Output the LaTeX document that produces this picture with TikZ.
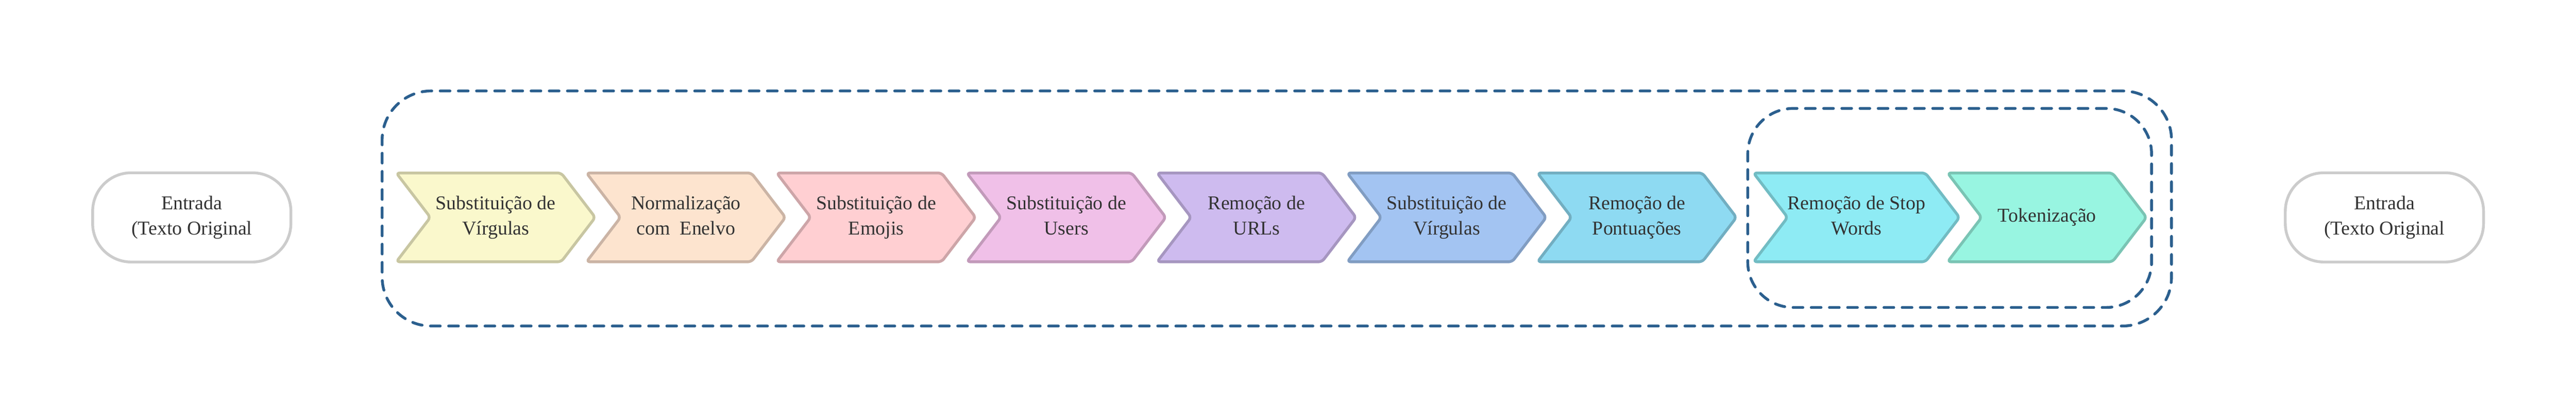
\documentclass[tikz,border=0pt]{standalone}
\usepackage{fontspec}
\setmainfont{Liberation Serif}
\usetikzlibrary{shapes.symbols}

\definecolor{texto}{HTML}{333333}
\definecolor{cinza}{HTML}{CCCCCC}
\definecolor{tracejado}{HTML}{2B5F8E}
\definecolor{amarelo}{HTML}{FAF8CC}   \definecolor{amareloB}{HTML}{C8C6A2}
\definecolor{pessego}{HTML}{FDE4CF}   \definecolor{pessegoB}{HTML}{CBB4A5}
\definecolor{rosa}{HTML}{FFCFD2}      \definecolor{rosaB}{HTML}{CDA5A8}
\definecolor{magenta}{HTML}{F0C0E8}   \definecolor{magentaB}{HTML}{C29ABA}
\definecolor{lilas}{HTML}{CEBBEF}     \definecolor{lilasB}{HTML}{A696C0}
\definecolor{azul}{HTML}{A3C4F2}      \definecolor{azulB}{HTML}{819DC2}
\definecolor{celeste}{HTML}{8EDAF2}   \definecolor{celesteB}{HTML}{72AEC1}
\definecolor{ciano}{HTML}{8EEBF4}     \definecolor{cianoB}{HTML}{72BCC3}
\definecolor{menta}{HTML}{98F5E1}     \definecolor{mentaB}{HTML}{7AC4B4}

\newcommand\apoio{\rule[-3.5pt]{0pt}{14pt}}

\begin{document}
\begin{tikzpicture}[
  etapa/.style={signal, signal to=east, signal from=west, signal pointer angle=105,
    minimum width=5.69cm, minimum height=2.54cm, inner sep=0pt, line width=0.08cm,
    rounded corners=0.1cm, align=center, text=texto,
    font=\fontsize{15.9}{20.5}\selectfont,
    execute at begin node=\apoio, execute at end node=\apoio},
  entrada/.style={rectangle, draw=cinza, line width=0.08cm, rounded corners=1.1cm,
    minimum width=5.67cm, minimum height=2.55cm, align=center, text=texto,
    font=\fontsize{15.9}{20.5}\selectfont,
    execute at begin node=\apoio, execute at end node=\apoio},
  grupo/.style={rectangle, draw=tracejado, line width=0.08cm, line cap=round,
    dash pattern=on 0.28cm off 0.24cm}
]
  \useasboundingbox (0,0) rectangle (73.68,11.92);
  % caixas tracejadas
  \node[grupo, rounded corners=1.4cm, minimum width=51.18cm, minimum height=6.72cm] (pipeline) at (36.52,5.96) {};
  \node[grupo, rounded corners=1.3cm, minimum width=11.55cm, minimum height=5.69cm] (final) at (55.765,5.975) {};
  % entrada e saida
  \node[entrada] (entrada) at (5.485,5.705) {Entrada\\(Texto Original};
  \node[entrada] (saida) at (68.20,5.705) {Entrada\\(Texto Original};
  % etapas
  \node[etapa, fill=amarelo, draw=amareloB] (virgulas) at (14.18,5.705) {Substituição de\\Vírgulas};
  \node[etapa, fill=pessego, draw=pessegoB] (enelvo) at (19.62,5.705) {Normalização\\com\ \ Enelvo};
  \node[etapa, fill=rosa, draw=rosaB] (emojis) at (25.06,5.705) {Substituição de\\Emojis};
  \node[etapa, fill=magenta, draw=magentaB] (users) at (30.50,5.705) {Substituição de\\Users};
  \node[etapa, fill=lilas, draw=lilasB] (urls) at (35.94,5.705) {Remoção de\\URLs};
  \node[etapa, fill=azul, draw=azulB] (virgulas2) at (41.38,5.705) {Substituição de\\Vírgulas};
  \node[etapa, fill=celeste, draw=celesteB] (pontuacao) at (46.82,5.705) {Remoção de\\Pontuações};
  \node[etapa, fill=ciano, draw=cianoB] (stopwords) at (53.10,5.705) {Remoção de Stop\\Words};
  \node[etapa, fill=menta, draw=mentaB] (tokens) at (58.55,5.705) {Tokenização};
\end{tikzpicture}
\end{document}
